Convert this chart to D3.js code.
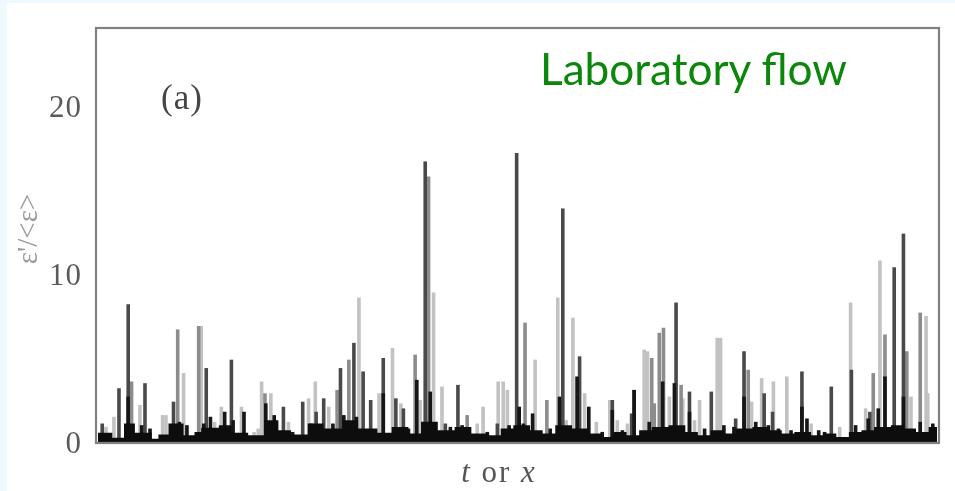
<!DOCTYPE html>
<html>
<head>
<meta charset="utf-8">
<script src="https://cdn.jsdelivr.net/npm/d3@7"></script>
<style>
  html, body { margin: 0; padding: 0; background: #edf9fd; }
  svg { display: block; }
</style>
</head>
<body>
<svg id="chart" width="955" height="491"></svg>
<script>
// Dissipation-rate signal eps'/<eps> against t (arbitrary units 0..1000).
// Each series holds [t, value] spikes of one grey tone of the trace.
const lightSpikes = [
  [9.5,0.9],[19,1.5],[50,2.2],[77,1.6],[81,1.6],[102,4.1],[123,6.9],[139,1.2],[147,2.1],
  [171,2.1],[186,0.6],[191,0.8],[195,3.6],[206,2.9],[227,1.2],[251,2.6],[259,3.6],[275,2.1],
  [311,8.6],[335,2.9],[351,5.6],[361,2.3],[384,2.5],[400,8.9],[410,3.3],[452,1.1],[459,2.1],
  [477,3.6],[483,3.6],[488,3.1],[521,4.9],[548,8.6],[558,1.3],[566,7.4],[580,2.9],[594,1.2],
  [610,2.5],[619,1.3],[631,1.1],[651,5.5],[655,5.4],[681,2.7],[697,2.6],[711,1.3],[717,2.5],
  [738,6.2],[742,6.2],[779,2.4],[791,3.8],[805,3.6],[821,3.9],[850,1.1],[884,0.9],[897,8.3],
  [915,2.0],[932,10.8],[969,2.7],[987,7.5],[989,2.9]
];
const graySpikes = [
  [40,3.6],[95,6.7],[120,6.9],[199,2.9],[285,3.1],[299,4.9],[378,5.2],[394,15.8],[440,1.6],
  [509,7.1],[535,2.5],[660,5.0],[663,2.3],[669,6.5],[674,6.8],[695,3.4],[775,4.3],[924,4.1],
  [938,6.4],[964,5.4],[980,7.7]
];
const darkSpikes = [
  [5,1.1],[25,3.2],[36,8.2],[56,3.5],[90,2.4],[129,4.4],[159,4.9],[221,2.1],[244,2.4],
  [260,1.8],[269,2.6],[289,4.4],[305,5.9],[316,4.2],[325,2.5],[340,5.0],[355,2.6],[364,2.0],
  [390,16.7],[414,1.1],[429,3.4],[476,1.1],[499,17.2],[554,13.9],[574,5.1],[613,2.5],[636,1.7],
  [639,3.1],[689,8.3],[705,3.0],[731,3.0],[760,1.4],[770,5.4],[794,2.9],[804,1.8],[839,4.2],
  [874,3.3],[898,4.3],[920,1.8],[949,10.4],[960,12.4]
];
const blackSpikes = [
  [36,2.7],[52,1.0],[62,0.8],[97,1.2],[106,1.0],[126,1.1],[134,1.5],[151,1.8],[161,1.3],
  [174,1.8],[200,2.3],[210,1.6],[232,0.6],[254,1.1],[280,1.1],[293,1.6],[308,1.5],[340,2.9],
  [370,0.8],[380,3.7],[396,3.0],[420,0.9],[434,1.0],[464,0.6],[490,1.0],[502,2.1],[507,1.1],
  [518,1.7],[539,0.8],[550,2.7],[571,3.9],[585,2.1],[601,0.6],[613,1.9],[625,0.7],[639,3.1],
  [657,1.2],[673,3.6],[687,3.5],[705,1.8],[723,0.8],[746,1.0],[758,0.9],[770,2.7],[784,1.2],
  [799,1.0],[811,0.8],[826,0.7],[839,2.1],[845,1.4],[859,0.7],[866,0.6],[903,1.0],[918,1.4],
  [930,2.0],[938,3.9],[960,2.7],[980,1.2],[995,1.1]
];
// Low-level background of the trace, step values from t onward.
const baseLevel = [
  [0,0.55],[17,0.25],[31,1.1],[44,0.55],[64,0.2],[72,0.45],[84,1.1],[102,0.4],[115,0.6],
  [123,0.85],[144,1.0],[159,0.55],[179,0.4],[198,1.3],[215,0.7],[230,0.45],[250,1.1],[269,0.8],
  [293,1.3],[310,0.8],[333,0.55],[350,0.9],[370,0.5],[385,1.2],[405,0.7],[425,0.9],[445,0.5],
  [465,0.4],[480,0.8],[495,1.0],[515,0.7],[530,0.5],[545,1.0],[565,0.8],[585,0.5],[600,0.3],
  [615,0.6],[630,0.4],[645,0.7],[660,0.9],[680,1.0],[700,0.6],[715,0.4],[730,0.7],[745,0.5],
  [760,0.8],[780,0.9],[800,0.7],[815,0.5],[830,0.6],[850,0.4],[865,0.5],[880,0.3],[895,0.6],
  [910,0.7],[925,0.9],[945,1.0],[960,0.8],[975,0.6],[990,0.9],[1000,0.9]
];
const yTicks = [0, 10, 20];

const svg = d3.select("#chart");
const W = 955, H = 491;
const plot = { left: 96, right: 939, top: 28, bottom: 442 };

// white sheet on the light page
svg.append("rect").attr("x", 7).attr("y", 3).attr("width", W - 7).attr("height", H - 3)
  .attr("fill", "#ffffff");

const defs = svg.append("defs");
defs.append("filter").attr("id", "soft")
  .attr("x", "-5%").attr("y", "-5%").attr("width", "110%").attr("height", "110%")
  .append("feGaussianBlur").attr("stdDeviation", 0.7);

const x = d3.scaleLinear().domain([0, 1000]).range([plot.left + 2, plot.right - 2]);
const y = d3.scaleLinear().domain([0, 24.64]).range([plot.bottom, plot.top]);

const fig = svg.append("g").attr("filter", "url(#soft)");

const barW = 3.6;
const tones = [
  { data: lightSpikes, color: "#c2c2c2" },
  { data: graySpikes,  color: "#8c8c8c" },
  { data: darkSpikes,  color: "#4a4a4a" },
  { data: blackSpikes, color: "#121212" }
];
tones.forEach(tone => {
  fig.append("g").selectAll("rect").data(tone.data).join("rect")
    .attr("x", d => x(d[0]) - barW / 2)
    .attr("width", barW)
    .attr("y", d => y(d[1]))
    .attr("height", d => y(0) - y(d[1]))
    .attr("fill", tone.color);
});

// background level as a stepped area
const baseArea = d3.area()
  .curve(d3.curveStepAfter)
  .x(d => x(d[0]))
  .y0(y(0))
  .y1(d => y(d[1]));
fig.append("path").datum(baseLevel).attr("d", baseArea).attr("fill", "#111111");

// frame
fig.append("rect")
  .attr("x", plot.left).attr("y", plot.top)
  .attr("width", plot.right - plot.left).attr("height", plot.bottom + 1 - plot.top)
  .attr("fill", "none").attr("stroke", "#808080").attr("stroke-width", 2.2);

// y axis labels
const yAxis = d3.axisLeft(y).tickValues(yTicks).tickSize(0).tickPadding(14)
  .tickFormat(d3.format("d"));
const ya = fig.append("g").attr("transform", `translate(${plot.left},0)`).call(yAxis);
ya.select(".domain").remove();
ya.selectAll("text")
  .attr("font-family", "'Liberation Serif', 'DejaVu Serif', serif")
  .attr("font-size", 31).attr("letter-spacing", 1).attr("fill", "#5a5a5a").attr("dy", "0.34em");

// y axis title
fig.append("text")
  .attr("transform", "translate(37,229) rotate(-90)")
  .attr("text-anchor", "middle")
  .attr("font-family", "'Liberation Serif', 'DejaVu Serif', serif")
  .attr("font-size", 29).attr("fill", "#9a9a9a")
  .text("ε'/<ε>");

// x axis title
const xt = fig.append("text")
  .attr("x", 499).attr("y", 482)
  .attr("text-anchor", "middle")
  .attr("font-family", "'Liberation Serif', 'DejaVu Serif', serif")
  .attr("font-size", 31).attr("letter-spacing", 2).attr("fill", "#555");
xt.append("tspan").attr("font-style", "italic").text("t");
xt.append("tspan").text(" or ");
xt.append("tspan").attr("font-style", "italic").text("x");

// panel tag
fig.append("text")
  .attr("x", 161).attr("y", 109)
  .attr("font-family", "'Liberation Serif', 'DejaVu Serif', serif")
  .attr("font-size", 35).attr("letter-spacing", 1).attr("fill", "#444")
  .text("(a)");

// caption
const cap = svg.append("text")
  .attr("x", 540).attr("y", 85)
  .attr("font-family", "Lato, 'Open Sans', sans-serif")
  .attr("font-size", 42).attr("fill", "#0b870b")
  .text("Laboratory flow");
const capW = cap.node().getComputedTextLength();
cap.attr("font-size", 42 * 307 / capW);
</script>
</body>
</html>
